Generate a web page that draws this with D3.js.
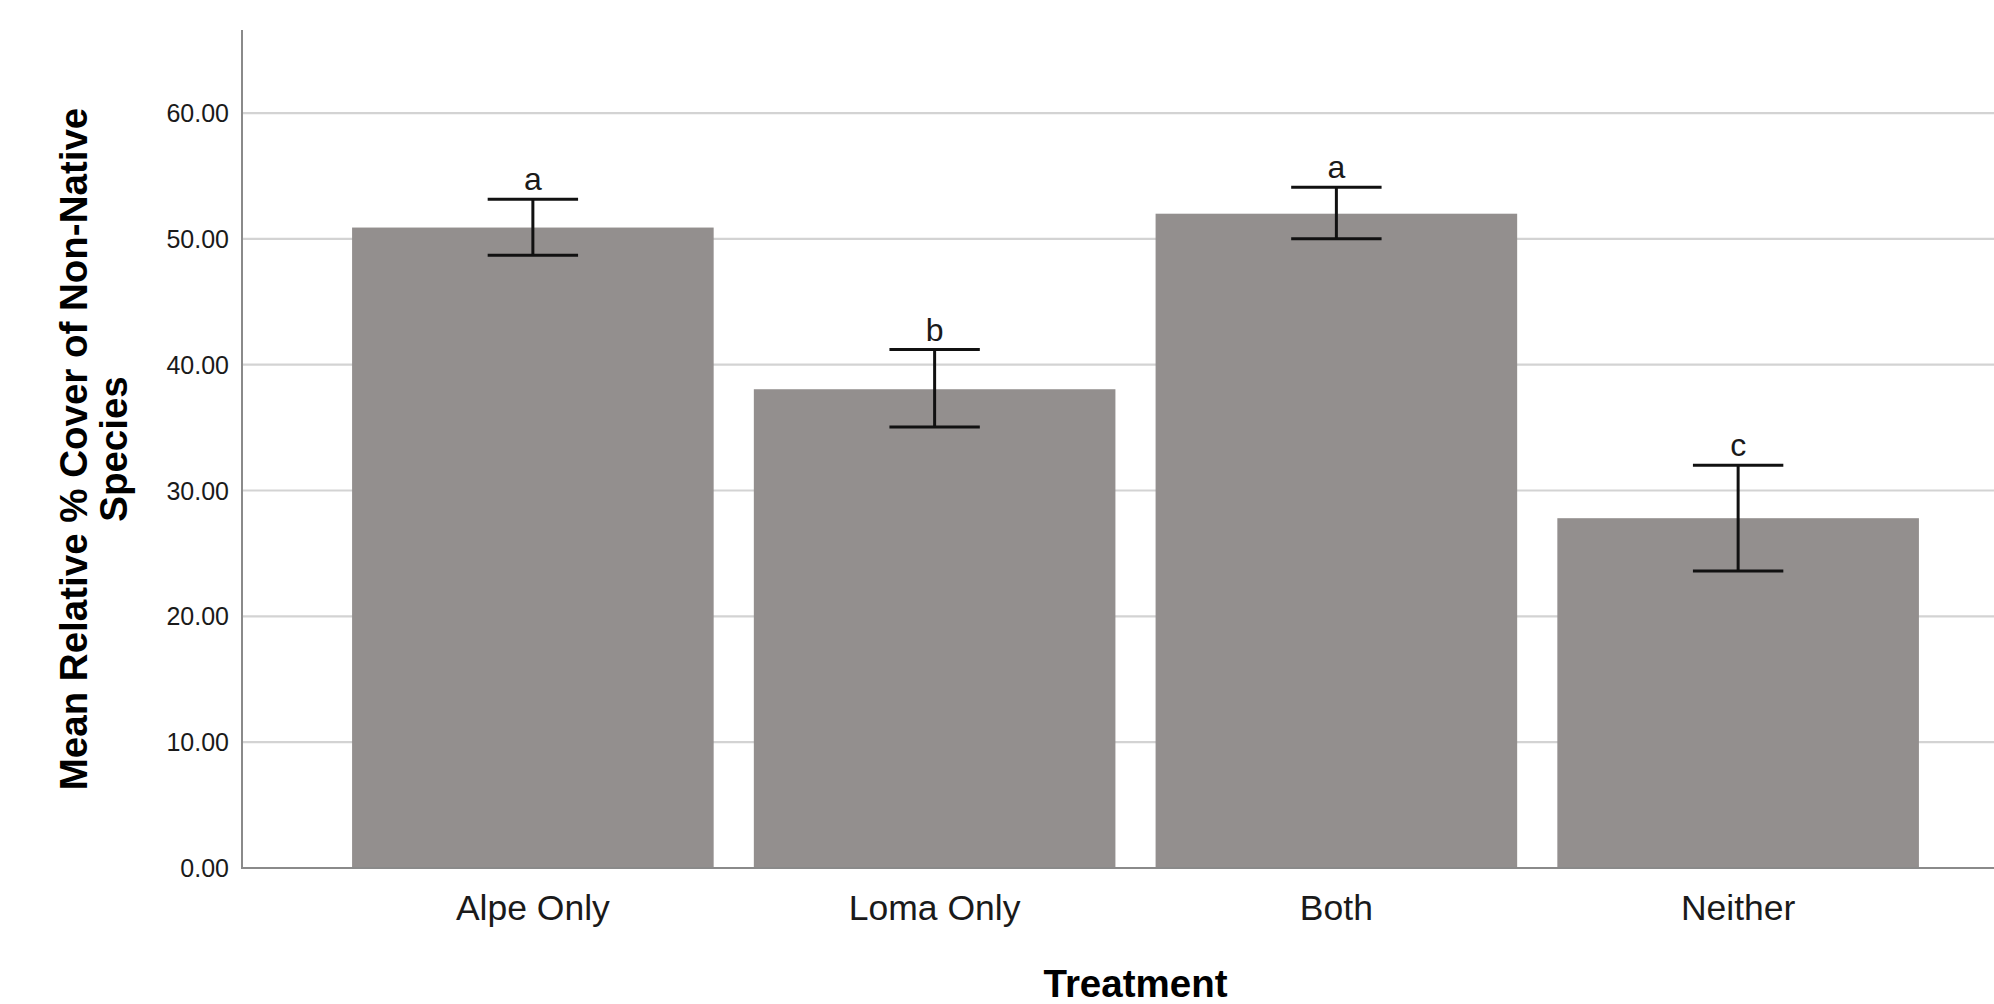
<!DOCTYPE html>
<html lang="en">
<head>
    <meta charset="UTF-8">
    <title>Mean Relative % Cover of Non-Native Species</title>
    <script src="https://d3js.org/d3.v7.min.js"></script>
    <style>
        body {
            margin: 0;
            background-color: #ffffff;
            font-family: "Liberation Sans", Arial, sans-serif;
        }
        .grid line {
            stroke: #d3d3d3;
            stroke-width: 2.2;
        }
        .tick-label {
            font-size: 25px;
            fill: #1a1a1a;
        }
        .cat-label {
            font-size: 35.5px;
            fill: #1a1a1a;
        }
        .axis-title {
            font-size: 38.5px;
            font-weight: bold;
            fill: #000000;
        }
        .sig-label {
            font-size: 32px;
            fill: #1a1a1a;
        }
    </style>
</head>
<body>
    <div id="chart"></div>

    <script>
        // data
        const treatments = ["Alpe Only", "Loma Only", "Both", "Neither"];
        const means = [50.9, 38.05, 52.0, 27.8];
        const errLow = [48.7, 35.05, 50.0, 23.6];
        const errHigh = [53.15, 41.2, 54.1, 32.0];
        const sigLetters = ["a", "b", "a", "c"];
        const yTicks = [0, 10, 20, 30, 40, 50, 60];

        const W = 1994, H = 1004;
        const axisX = 242, axisTop = 30, axisBottom = 868;

        const svg = d3.select("#chart")
            .append("svg")
            .attr("width", W)
            .attr("height", H);

        const xScale = d3.scaleBand()
            .domain(treatments)
            .range([axisX, 2029])
            .paddingInner(0.1)
            .paddingOuter(0.274);

        const yScale = d3.scaleLinear()
            .domain([0, 66.6])
            .range([axisBottom, axisTop]);

        // gridlines
        svg.append("g")
            .attr("class", "grid")
            .selectAll("line")
            .data(yTicks.filter(d => d > 0))
            .enter()
            .append("line")
            .attr("x1", axisX)
            .attr("x2", W)
            .attr("y1", d => yScale(d))
            .attr("y2", d => yScale(d));

        // y tick labels
        svg.append("g")
            .selectAll("text")
            .data(yTicks)
            .enter()
            .append("text")
            .attr("class", "tick-label")
            .attr("x", axisX - 13)
            .attr("y", d => yScale(d))
            .attr("dy", "0.36em")
            .attr("text-anchor", "end")
            .text(d => d3.format(".2f")(d));

        const data = treatments.map((t, i) => ({
            name: t,
            mean: means[i],
            lo: errLow[i],
            hi: errHigh[i],
            letter: sigLetters[i]
        }));

        // bars
        svg.append("g")
            .selectAll("rect")
            .data(data)
            .enter()
            .append("rect")
            .attr("x", d => xScale(d.name))
            .attr("y", d => yScale(d.mean))
            .attr("width", xScale.bandwidth())
            .attr("height", d => yScale(0) - yScale(d.mean))
            .attr("fill", "#938f8e");

        // error bars
        const capHalf = xScale.bandwidth() * 0.125;
        const err = svg.append("g")
            .selectAll("g")
            .data(data)
            .enter()
            .append("g")
            .attr("stroke", "#111111")
            .attr("stroke-width", 3);

        err.append("line")
            .attr("x1", d => xScale(d.name) + xScale.bandwidth() / 2)
            .attr("x2", d => xScale(d.name) + xScale.bandwidth() / 2)
            .attr("y1", d => yScale(d.lo))
            .attr("y2", d => yScale(d.hi));

        err.append("line")
            .attr("x1", d => xScale(d.name) + xScale.bandwidth() / 2 - capHalf)
            .attr("x2", d => xScale(d.name) + xScale.bandwidth() / 2 + capHalf)
            .attr("y1", d => yScale(d.hi))
            .attr("y2", d => yScale(d.hi));

        err.append("line")
            .attr("x1", d => xScale(d.name) + xScale.bandwidth() / 2 - capHalf)
            .attr("x2", d => xScale(d.name) + xScale.bandwidth() / 2 + capHalf)
            .attr("y1", d => yScale(d.lo))
            .attr("y2", d => yScale(d.lo));

        // significance letters
        svg.append("g")
            .selectAll("text")
            .data(data)
            .enter()
            .append("text")
            .attr("class", "sig-label")
            .attr("x", d => xScale(d.name) + xScale.bandwidth() / 2)
            .attr("y", d => yScale(d.hi) - 9)
            .attr("text-anchor", "middle")
            .text(d => d.letter);

        // axis lines
        svg.append("line")
            .attr("x1", axisX).attr("x2", axisX)
            .attr("y1", axisTop).attr("y2", axisBottom + 1)
            .attr("stroke", "#8a8a8a")
            .attr("stroke-width", 2);

        svg.append("line")
            .attr("x1", axisX).attr("x2", W)
            .attr("y1", axisBottom).attr("y2", axisBottom)
            .attr("stroke", "#8a8a8a")
            .attr("stroke-width", 2);

        // category labels
        svg.append("g")
            .selectAll("text")
            .data(treatments)
            .enter()
            .append("text")
            .attr("class", "cat-label")
            .attr("x", d => xScale(d) + xScale.bandwidth() / 2)
            .attr("y", 920)
            .attr("text-anchor", "middle")
            .text(d => d);

        // axis titles
        const xMid = (xScale.range()[0] + xScale.range()[1]) / 2;
        svg.append("text")
            .attr("class", "axis-title")
            .attr("x", xMid)
            .attr("y", 997)
            .attr("text-anchor", "middle")
            .text("Treatment");

        const yMid = (axisTop + axisBottom) / 2;
        const yTitle = svg.append("text")
            .attr("class", "axis-title")
            .attr("transform", `translate(0,${yMid}) rotate(-90)`)
            .attr("text-anchor", "middle");
        yTitle.append("tspan")
            .attr("x", 0)
            .attr("y", 87)
            .text("Mean Relative % Cover of Non-Native");
        yTitle.append("tspan")
            .attr("x", 0)
            .attr("y", 127)
            .text("Species");
    </script>
</body>
</html>
